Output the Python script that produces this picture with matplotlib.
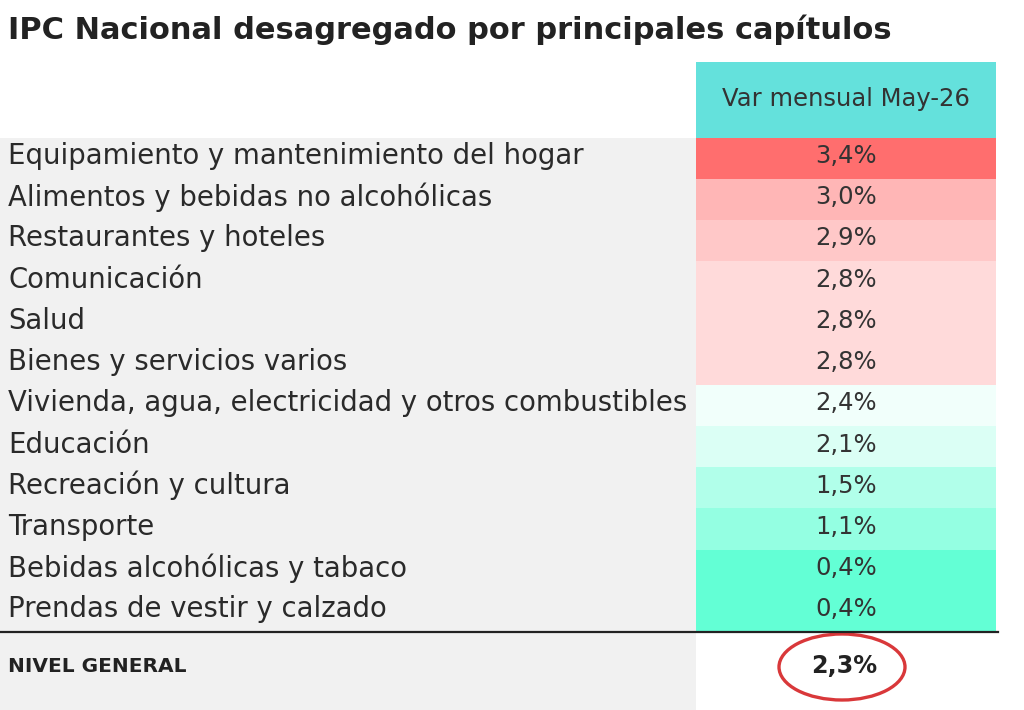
import numpy as np
import matplotlib.pyplot as plt
import matplotlib.patches as patches
from matplotlib.colors import LinearSegmentedColormap, TwoSlopeNorm

categorias = [
    "Equipamiento y mantenimiento del hogar",
    "Alimentos y bebidas no alcohólicas",
    "Restaurantes y hoteles",
    "Comunicación",
    "Salud",
    "Bienes y servicios varios",
    "Vivienda, agua, electricidad y otros combustibles",
    "Educación",
    "Recreación y cultura",
    "Transporte",
    "Bebidas alcohólicas y tabaco",
    "Prendas de vestir y calzado",
]
var_mensual = [3.4, 3.0, 2.9, 2.8, 2.8, 2.8, 2.4, 2.1, 1.5, 1.1, 0.4, 0.4]
nivel_general = 2.3
titulo = "IPC Nacional desagregado por principales capítulos"
encabezado = "Var mensual May-26"

FONT = "DejaVu Sans"
W, H = 1024, 710
fig = plt.figure(figsize=(W / 100, H / 100), dpi=100)
ax = fig.add_axes([0, 0, 1, 1])
ax.set_xlim(0, W)
ax.set_ylim(H, 0)
ax.axis("off")

# escala de color tipo Excel: verde - blanco (mediana) - rojo
cmap = LinearSegmentedColormap.from_list("rg", ["#63ffd5", "#ffffff", "#ff6e6e"])
norm = TwoSlopeNorm(vmin=min(var_mensual), vcenter=float(np.median(var_mensual)),
                    vmax=max(var_mensual))

x_col = 696
x_end = 996
x_mid = (x_col + x_end) / 2
top_hdr = 62
top = 137.5
row_h = 41.2

ax.text(8, 30, titulo, fontsize=22, fontweight="bold", family=FONT,
        va="center", ha="left", color="#222222")

# encabezado
ax.add_patch(patches.Rectangle((x_col, top_hdr), x_end - x_col, top - top_hdr,
                               facecolor="#64e1dc", edgecolor="none"))
ax.text(x_mid, 99, encabezado, fontsize=17.5, family=FONT,
        ha="center", va="center", color="#333333")

# fondo gris de etiquetas
ax.add_patch(patches.Rectangle((0, top), x_col, H - top, facecolor="#f1f1f1",
                               edgecolor="none"))

for i, (cat, v) in enumerate(zip(categorias, var_mensual)):
    y = top + i * row_h
    ax.add_patch(patches.Rectangle((x_col, y), x_end - x_col, row_h,
                                   facecolor=cmap(norm(v)), edgecolor="none"))
    ax.text(8, y + row_h / 2 - 2, cat, fontsize=19.8, family=FONT,
            ha="left", va="center", color="#2a2a2a")
    ax.text(x_mid, y + row_h / 2 - 2, f"{v:.1f}%".replace(".", ","),
            fontsize=17.5, family=FONT, ha="center", va="center", color="#333333")

y_line = top + len(categorias) * row_h
ax.plot([0, 998], [y_line, y_line], color="#222222", lw=1.6)

y_tot = 666
ax.text(8, y_tot, "NIVEL GENERAL", fontsize=14.5, fontweight="bold", family=FONT,
        ha="left", va="center", color="#222222")
ax.text(x_mid - 2, y_tot, f"{nivel_general:.1f}%".replace(".", ","),
        fontsize=17.2, fontweight="bold", family=FONT, ha="center", va="center",
        color="#222222")
ax.add_patch(patches.Ellipse((x_mid - 4, y_tot + 1), 126, 66,
                             facecolor="none", edgecolor="#d9383a", lw=2.4))

fig.savefig("out.png", dpi=100)
